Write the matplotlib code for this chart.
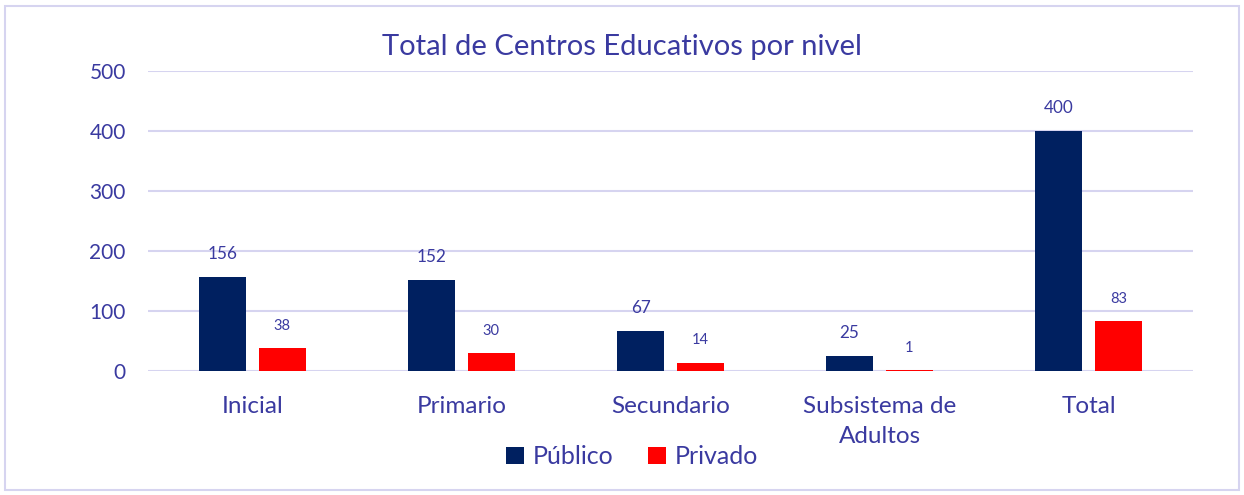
import matplotlib
matplotlib.use("Agg")
import matplotlib.pyplot as plt
import numpy as np
from matplotlib.patches import Rectangle

categories = ["Inicial", "Primario", "Secundario", "Subsistema de\nAdultos", "Total"]
publico = [156, 152, 67, 25, 400]
privado = [38, 30, 14, 1, 83]
series_names = ["Público", "Privado"]
title = "Total de Centros Educativos por nivel"

TXT = "#3A3AA0"
GRID = "#D6D4F0"
C_PUB = "#002060"
C_PRI = "#FF0000"

plt.rcParams["font.family"] = ["Lato", "DejaVu Sans"]

fig = plt.figure(figsize=(12.44, 4.95), dpi=100)
ax = fig.add_axes([0.119, 0.2505, 0.84, 0.606])

x = np.arange(len(categories))
w = 0.225
off = 0.143
b1 = ax.bar(x - off, publico, w, color=C_PUB, label=series_names[0], zorder=3)
b2 = ax.bar(x + off, privado, w, color=C_PRI, label=series_names[1], zorder=3)

for bars, vals, fs in ((b1, publico, 12.3), (b2, privado, 10.5)):
    for r, v in zip(bars, vals):
        ax.annotate(str(v), (r.get_x() + r.get_width() / 2, r.get_height()),
                    xytext=(0, 11), textcoords="offset points",
                    ha="center", va="bottom", fontsize=fs, color=TXT)

ax.set_xlim(-0.5, len(categories) - 0.5)
ax.set_ylim(0, 500)
ax.set_yticks([0, 100, 200, 300, 400, 500])
ax.yaxis.grid(True, color=GRID, linewidth=1.5, zorder=0)
ax.set_axisbelow(True)
for s in ax.spines.values():
    s.set_visible(False)
ax.tick_params(axis="both", length=0, colors=TXT)
ax.tick_params(axis="y", pad=16, labelsize=15)
ax.tick_params(axis="x", pad=18, labelsize=17.5)
ax.set_xticks(x)
ax.set_xticklabels(categories, linespacing=1.5)

fig.text(0.5, 0.905, title, ha="center", va="center", fontsize=21, color=TXT)

leg = fig.legend(loc="center", bbox_to_anchor=(0.508, 0.077), ncol=2, frameon=False,
                 fontsize=18, handlelength=0.7, handleheight=0.7, handletextpad=0.35,
                 columnspacing=1.4)
for t in leg.get_texts():
    t.set_color(TXT)

fig.patches.append(Rectangle((0.004, 0.01), 0.992, 0.977, transform=fig.transFigure,
                             fill=False, edgecolor=GRID, linewidth=1.5))

fig.savefig("out.png", dpi=100, facecolor="white")
